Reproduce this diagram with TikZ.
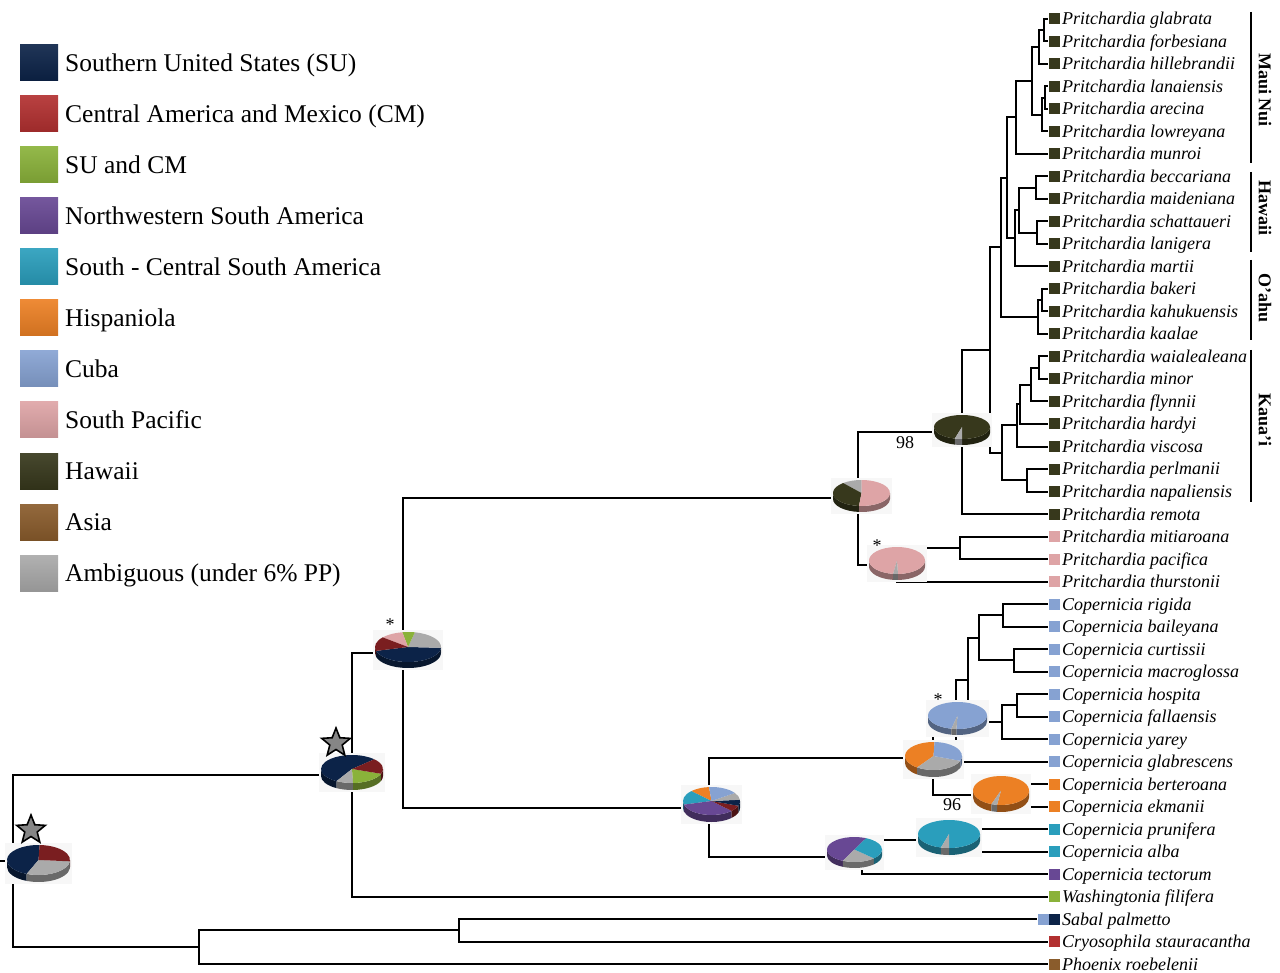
\documentclass[tikz,border=0pt]{standalone}
\usepackage{fontspec}
\setmainfont{Liberation Serif}
\usetikzlibrary{shapes.geometric}
\definecolor{cSU}{RGB}{12,35,72}
\definecolor{cCM}{RGB}{178,48,48}
\definecolor{cCMpie}{RGB}{122,30,32}
\definecolor{cSC}{RGB}{138,178,58}
\definecolor{cNW}{RGB}{104,72,148}
\definecolor{cSCS}{RGB}{42,158,188}
\definecolor{cHis}{RGB}{236,128,36}
\definecolor{cCuba}{RGB}{134,162,210}
\definecolor{cSP}{RGB}{222,164,166}
\definecolor{cHaw}{RGB}{55,56,28}
\definecolor{cAsia}{RGB}{138,92,44}
\definecolor{cAmb}{RGB}{170,170,170}
\definecolor{pieback}{RGB}{247,247,247}
\newcommand\leaffont{\fontsize{18}{20}\selectfont\itshape}
\newcommand\legfont{\fontsize{25.5}{28}\selectfont}
\newcommand\numfont{\fontsize{18}{20}\selectfont}
\newcommand\cladefont{\fontsize{18}{20}\selectfont\bfseries}
\newcommand\pieslice[3]{%
  \fill[#3] (0pt,0pt) -- (#1:\prx pt and \pry pt) arc[start angle=#1, end angle=#2, x radius=\prx pt, y radius=\pry pt] -- cycle;}
\newcommand\pieside[3]{%
  \pgfmathsetmacro\psa{max(#1,180)}\pgfmathsetmacro\psb{min(#2,360)}%
  \ifdim\psa pt<\psb pt
    \fill[#3!62!black] (\psa:\prx pt and \pry pt) arc[start angle=\psa, end angle=\psb, x radius=\prx pt, y radius=\pry pt] -- ++(0pt,-\pdd pt) arc[start angle=\psb, end angle=\psa, x radius=\prx pt, y radius=\pry pt] -- cycle;
  \fi
  \pgfmathsetmacro\psa{max(#1,540)}\pgfmathsetmacro\psb{min(#2,720)}%
  \ifdim\psa pt<\psb pt
    \fill[#3!62!black] (\psa:\prx pt and \pry pt) arc[start angle=\psa, end angle=\psb, x radius=\prx pt, y radius=\pry pt] -- ++(0pt,-\pdd pt) arc[start angle=\psb, end angle=\psa, x radius=\prx pt, y radius=\pry pt] -- cycle;
  \fi}
\newcommand\drawpie[6]{%
  \begin{scope}[shift={(#1,#2)}]
    \def\prx{#3}\def\pry{#4}\def\pdd{#5}%
    \fill[pieback] ({-#3pt-2pt},{#4pt+2pt}) rectangle ({#3pt+2pt},{-#4pt-#5pt-2pt});
    \foreach \pa/\pb/\pc in {#6}{\pieside{\pa}{\pb}{\pc}}
    \foreach \pa/\pb/\pc in {#6}{\pieslice{\pa}{\pb}{\pc}}
  \end{scope}}
\begin{document}
\begin{tikzpicture}[x=1pt,y=-1pt,
  branch/.style={line width=2pt},
  cladebar/.style={line width=1.8pt},
  tip/.style={minimum size=11pt, inner sep=0pt, draw=none},
  lab/.style={anchor=base west, inner sep=0pt, font=\leaffont},
  legsq/.style={minimum width=38pt, minimum height=36pt, inner sep=0pt, draw=none},
  legtext/.style={anchor=base west, inner sep=0pt, font=\legfont},
  cladelab/.style={rotate=-90, inner sep=0pt, font=\cladefont},
  numlab/.style={inner sep=0pt, font=\numfont},
  starnode/.style={star, star points=5, star point ratio=2.3, minimum size=30pt, inner sep=0pt, fill=gray!95, draw=black, line width=1.6pt}]
\useasboundingbox (0,0) rectangle (1280,973);
\fill[white] (0,0) rectangle (1280,973);

% legend
\foreach \i/\col/\txt in {0/cSU/Southern United States (SU), 1/cCM/Central America and Mexico (CM), 2/cSC/SU and CM, 3/cNW/Northwestern South America, 4/cSCS/South - Central South America, 5/cHis/Hispaniola, 6/cCuba/Cuba, 7/cSP/South Pacific, 8/cHaw/Hawaii, 9/cAsia/Asia, 10/cAmb/Ambiguous (under 6\% PP)}{
  \pgfmathsetmacro\yy{63+51*\i}
  \node[legsq, top color=\col!92!white, bottom color=\col!88!black] (q\i) at (39,\yy) {};
  \node[legtext] (g\i) at (65,\yy+8.5) {\txt};
}

% leaves
\foreach \i/\nm/\col in {0/Pritchardia glabrata/cHaw, 1/Pritchardia forbesiana/cHaw, 2/Pritchardia hillebrandii/cHaw, 3/Pritchardia lanaiensis/cHaw, 4/Pritchardia arecina/cHaw, 5/Pritchardia lowreyana/cHaw, 6/Pritchardia munroi/cHaw, 7/Pritchardia beccariana/cHaw, 8/Pritchardia maideniana/cHaw, 9/Pritchardia schattaueri/cHaw, 10/Pritchardia lanigera/cHaw, 11/Pritchardia martii/cHaw, 12/Pritchardia bakeri/cHaw, 13/Pritchardia kahukuensis/cHaw, 14/Pritchardia kaalae/cHaw, 15/Pritchardia waialealeana/cHaw, 16/Pritchardia minor/cHaw, 17/Pritchardia flynnii/cHaw, 18/Pritchardia hardyi/cHaw, 19/Pritchardia viscosa/cHaw, 20/Pritchardia perlmanii/cHaw, 21/Pritchardia napaliensis/cHaw, 22/Pritchardia remota/cHaw, 23/Pritchardia mitiaroana/cSP, 24/Pritchardia pacifica/cSP, 25/Pritchardia thurstonii/cSP, 26/Copernicia rigida/cCuba, 27/Copernicia baileyana/cCuba, 28/Copernicia curtissii/cCuba, 29/Copernicia macroglossa/cCuba, 30/Copernicia hospita/cCuba, 31/Copernicia fallaensis/cCuba, 32/Copernicia yarey/cCuba, 33/Copernicia glabrescens/cCuba, 34/Copernicia berteroana/cHis, 35/Copernicia ekmanii/cHis, 36/Copernicia prunifera/cSCS, 37/Copernicia alba/cSCS, 38/Copernicia tectorum/cNW, 39/Washingtonia filifera/cSC, 40/Sabal palmetto/cSU, 41/Cryosophila stauracantha/cCM, 42/Phoenix roebelenii/cAsia}{
  \pgfmathsetmacro\yy{19+22.5*\i}
  \node[tip, fill=\col] (s\i) at (1054,\yy) {};
  \node[lab] (t\i) at (1062,\yy+6) {\nm};
}
\node[tip, fill=cCuba] (s40b) at (1043,919) {};

% internal nodes
\coordinate (a1) at (1044,30.25);
\coordinate (a2) at (1039,47.1);
\coordinate (a3) at (1045,97.75);
\coordinate (a4) at (1042,114.6);
\coordinate (a5) at (1032,80.9);
\coordinate (a6) at (1016,117.4);
\coordinate (b1) at (1036,187.75);
\coordinate (b2) at (1037,232.75);
\coordinate (b3) at (1019,210.25);
\coordinate (b4) at (1015,238.4);
\coordinate (A) at (1007,177.9);
\coordinate (c1) at (1042,300.25);
\coordinate (c2) at (1038,317.1);
\coordinate (B) at (1001,247.5);
\coordinate (k1) at (1039,367.75);
\coordinate (k2) at (1031,384.6);
\coordinate (k3) at (1020,404.3);
\coordinate (k4) at (1017,425.4);
\coordinate (k5) at (1027,480.25);
\coordinate (k6) at (1002,452.8);
\coordinate (C) at (990,350.2);
\coordinate (D) at (962,432.1);
\coordinate (f1) at (960,547.75);
\coordinate (F) at (897,564.6);
\coordinate (E) at (858,498.4);
\coordinate (p1) at (1003,615.25);
\coordinate (p2) at (1014,660.25);
\coordinate (p3) at (979,637.75);
\coordinate (p4) at (1017,705.25);
\coordinate (p5) at (1002,722.1);
\coordinate (P) at (968,679.9);
\coordinate (Q) at (956,720.7);
\coordinate (M) at (1001,795.25);
\coordinate (K) at (933,758);
\coordinate (O) at (949,840.25);
\coordinate (L) at (862,857.1);
\coordinate (J) at (709,807.5);
\coordinate (G) at (403,653);
\coordinate (H) at (352,774.7);
\coordinate (o1) at (459,930.25);
\coordinate (o2) at (199,947.1);
\coordinate (I) at (13,860.9);
\coordinate (rs) at (0,860.9);

% branches
\foreach \p/\c in {a1/s0.west, a1/s1.west, a2/a1, a2/s2.west, a3/s3.west, a3/s4.west, a4/a3, a4/s5.west, a5/a2, a5/a4, a6/a5, a6/s6.west,
  b1/s7.west, b1/s8.west, b2/s9.west, b2/s10.west, b3/b1, b3/b2, b4/b3, b4/s11.west, A/a6, A/b4,
  c1/s12.west, c1/s13.west, c2/c1, c2/s14.west, B/A, B/c2,
  k1/s15.west, k1/s16.west, k2/k1, k2/s17.west, k3/k2, k3/s18.west, k4/k3, k4/s19.west, k5/s20.west, k5/s21.west, k6/k4, k6/k5,
  C/B, C/k6, D/C, D/s22.west, f1/s23.west, f1/s24.west, F/f1, F/s25.west, E/D, E/F,
  p1/s26.west, p1/s27.west, p2/s28.west, p2/s29.west, p3/p1, p3/p2, p4/s30.west, p4/s31.west, p5/p4, p5/s32.west,
  P/p3, P/p5, Q/P, Q/s33.west, M/s34.west, M/s35.west, K/Q, K/M, O/s36.west, O/s37.west, L/O, L/s38.west,
  J/K, J/L, G/E, G/J, H/G, H/s39.west, o1/s40b.west, o1/s41.west, o2/o1, o2/s42.west, I/H, I/o2}{
  \draw[branch] (\p) |- (\c);
}
\draw[branch] (rs) -- (I);

% pies
\drawpie{38.5}{860}{31.5}{15}{7}{88/248/cSU, 248/355/cAmb, 355/448/cCMpie}
\drawpie{352}{769}{31}{14}{7}{44/240/cSU, 240/272/cAmb, 272/340/cSC, 340/404/cCMpie}
\drawpie{408}{647}{33}{15}{6}{195/357/cSU, 357/438/cAmb, 438/460/cSC, 460/500/cSP, 500/555/cCMpie}
\drawpie{861.5}{493}{28.5}{13}{6}{90/130/cAmb, 130/265/cHaw, 265/450/cSP}
\drawpie{962}{427}{28}{12}{6}{270/615/cHaw, 255/270/cAmb}
\drawpie{897}{560.5}{28}{13.5}{6}{272/622/cSP, 262/272/cAmb}
\drawpie{711.5}{801}{28.5}{14}{7}{95/135/cHis, 135/195/cSCS, 195/315/cNW, 315/340/cCMpie, 340/365/cSU, 365/395/cAmb, 395/455/cCuba}
\drawpie{957.5}{715.5}{29.5}{13.5}{6}{268/618/cCuba, 258/268/cAmb}
\drawpie{933.5}{756}{28.5}{14}{7}{88/235/cHis, 235/340/cAmb, 340/448/cCuba}
\drawpie{1001}{790.5}{28}{14.5}{7}{262/610/cHis, 250/262/cAmb}
\drawpie{949}{834}{31}{14}{7}{270/615/cSCS, 255/270/cAmb}
\drawpie{854.5}{849.5}{27.5}{12.5}{6}{65/245/cNW, 245/315/cAmb, 315/425/cSCS}

% stars
\node[starnode] (star1) at (336,743) {};
\node[starnode] (star2) at (31,830) {};

% support labels
\node[numlab] (n98) at (905,443) {98};
\node[numlab] (n96) at (952,805) {96};
\node[numlab] (ast1) at (390,625) {*};
\node[numlab] (ast2) at (877,546) {*};
\node[numlab] (ast3) at (938,700) {*};

% clade bars
\coordinate (mn1) at (1251,12); \coordinate (mn2) at (1251,163);
\coordinate (hw1) at (1251,172); \coordinate (hw2) at (1251,252);
\coordinate (oa1) at (1251,260); \coordinate (oa2) at (1251,340);
\coordinate (ka1) at (1251,350); \coordinate (ka2) at (1251,502);
\draw[cladebar] (mn1) -- (mn2);
\draw[cladebar] (hw1) -- (hw2);
\draw[cladebar] (oa1) -- (oa2);
\draw[cladebar] (ka1) -- (ka2);
\node[cladelab] (cl1) at (1265,90) {Maui Nui};
\node[cladelab] (cl2) at (1265,208) {Hawaii};
\node[cladelab] (cl3) at (1265,298) {O’ahu};
\node[cladelab] (cl4) at (1265,420) {Kaua’i};
\end{tikzpicture}
\end{document}
